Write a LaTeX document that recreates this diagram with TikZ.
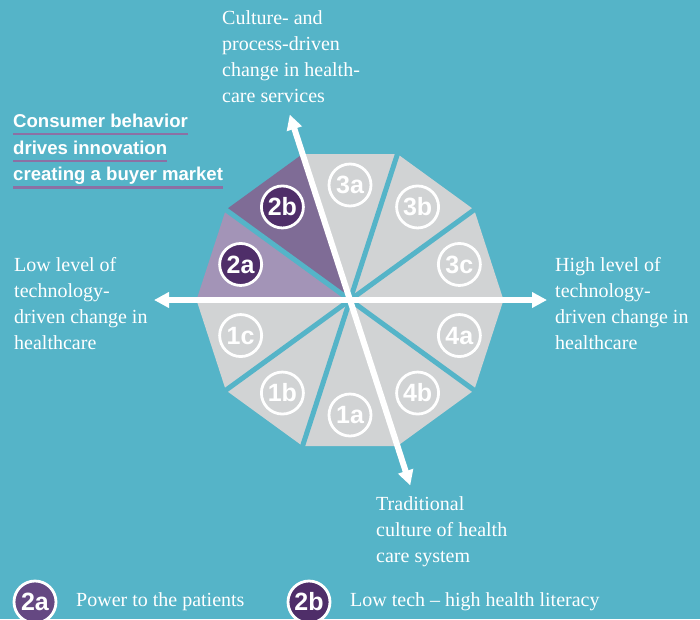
\documentclass[tikz,border=0pt]{standalone}
\usepackage{fontspec}
\setmainfont{Liberation Serif}
\newfontfamily\lsans{Liberation Sans}
\usetikzlibrary{calc,arrows.meta}
\definecolor{bg}{HTML}{55B4C8}
\definecolor{sect}{HTML}{D1D3D4}
\definecolor{lpurp}{HTML}{A394B7}
\definecolor{mpurp}{HTML}{7F6C96}
\definecolor{dpurp}{HTML}{4F2E69}
\definecolor{legpurp}{HTML}{654882}
\definecolor{uline}{HTML}{8C70A4}
\tikzset{
  numc/.style={circle, draw=white, line width=2.8pt, minimum size=42pt, inner sep=0pt,
    text=white, font=\lsans\bfseries\fontsize{25}{25}\selectfont},
  axisline/.style={white, line width=6pt, {Triangle[length=15pt,width=15pt]}-{Triangle[length=15pt,width=15pt]}},
  gapline/.style={bg, line width=5pt},
  sertext/.style={text=white, inner sep=0pt, anchor=north west, align=left,
    font=\fontsize{20}{26}\selectfont},
  bannertext/.style={text=white, inner sep=0pt, anchor=base west,
    font=\lsans\bfseries\fontsize{18.6}{18.6}\selectfont},
  legtext/.style={text=white, inner sep=0pt, anchor=base west, font=\fontsize{20}{26}\selectfont},
  ul/.style={uline, line width=2.2pt}
}
\begin{document}
\begin{tikzpicture}[x=1pt,y=-1pt]
\fill[bg] (0,0) rectangle (700,619);
\useasboundingbox (0,0) rectangle (700,619);
\coordinate (C) at (350,300);
\begin{scope}[shift={(350,300)}]
  \foreach \a/\col in {0/sect,36/sect,72/sect,108/mpurp,144/lpurp,180/sect,216/sect,252/sect,288/sect,324/sect}
    \fill[\col] (0,0) -- (\a:153.5pt) -- ({\a+36}:153.5pt) -- cycle;
  \foreach \a in {36,72,144,216,252,324}
    \draw[gapline] (0,0) -- (\a:158pt);
  \coordinate (tipT) at (108:195pt);
  \coordinate (tipB) at (288:195pt);
  \coordinate (tipL) at (180:196pt);
  \coordinate (tipR) at (0:197pt);
  \node[numc] (n3a) at (90:115pt) {3a};
  \node[numc] (n3b) at (54:115pt) {3b};
  \node[numc] (n3c) at (18:115pt) {3c};
  \node[numc] (n4a) at (-18:115pt) {4a};
  \node[numc] (n4b) at (-54:115pt) {4b};
  \node[numc] (n1a) at (-90:115pt) {1a};
  \node[numc] (n1b) at (-126:115pt) {1b};
  \node[numc] (n1c) at (-162:115pt) {1c};
  \node[numc, fill=dpurp] (n2a) at (162:115pt) {2a};
  \node[numc, fill=dpurp] (n2b) at (126:115pt) {2b};
\end{scope}
\draw[axisline] (tipL) -- (tipR);
\draw[axisline] (tipB) -- (tipT);

% axis labels
\node[sertext] (lblT) at (222,10.3) {Culture- and\\process-driven\\change in health-\\care services};
\node[sertext] (lblL) at (14,257.3) {Low level of\\technology-\\driven change in\\healthcare};
\node[sertext] (lblR) at (555,257.3) {High level of\\technology-\\driven change in\\healthcare};
\node[sertext] (lblB) at (376,496.3) {Traditional\\culture of health\\care system};

% banner
\node[bannertext] (cb1) at (13,127.3) {Consumer behavior};
\node[bannertext] (cb2) at (13,154) {drives innovation};
\node[bannertext] (cb3) at (13,180.5) {creating a buyer market};
\foreach \n in {cb1,cb2,cb3}
  \draw[ul] ($(\n.base west)+(0,7)$) -- ($(\n.base east)+(0,7)$);

% legend
\node[numc, fill=legpurp] (leg2a) at (35,602) {2a};
\node[numc, fill=dpurp] (leg2b) at (309,602) {2b};
\node[legtext] (legt2a) at (76,606) {Power to the patients};
\node[legtext] (legt2b) at (350,606) {Low tech -- high health literacy};
\end{tikzpicture}
\end{document}
